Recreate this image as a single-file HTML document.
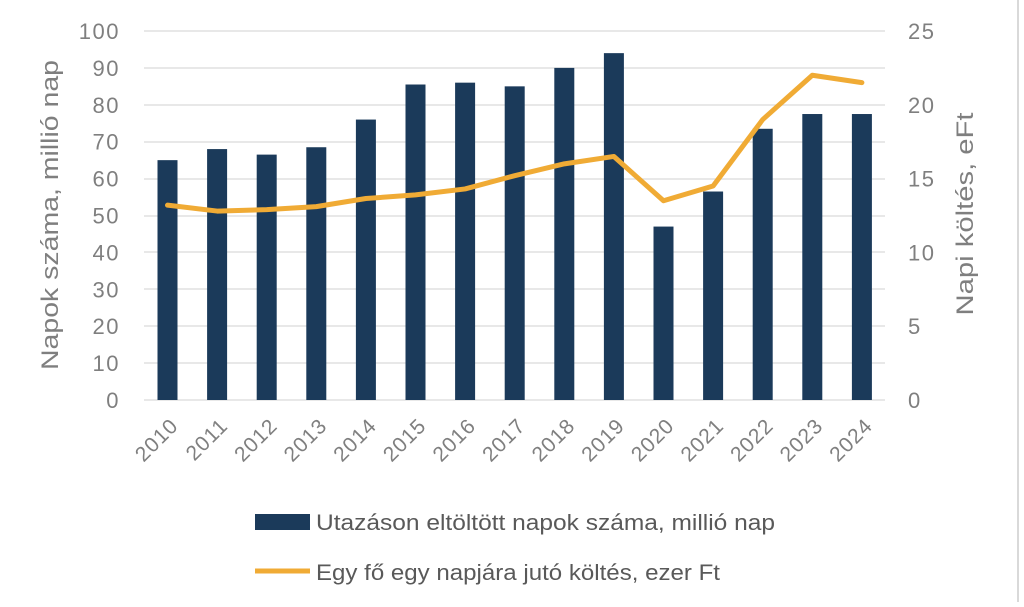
<!DOCTYPE html>
<html><head><meta charset="utf-8"><style>
body{margin:0;background:#fff;width:1024px;height:602px;overflow:hidden}
text{font-family:"Liberation Sans",sans-serif}
</style></head><body>
<svg width="1024" height="602" viewBox="0 0 1024 602">
<rect x="1017" y="0" width="2" height="602" fill="#d9d9d9"/>
<g stroke="#d9d9d9" stroke-width="1.3">
<line x1="144" x2="885" y1="31" y2="31"/><line x1="144" x2="885" y1="68" y2="68"/>
<line x1="144" x2="885" y1="105" y2="105"/><line x1="144" x2="885" y1="142" y2="142"/>
<line x1="144" x2="885" y1="179" y2="179"/><line x1="144" x2="885" y1="216" y2="216"/>
<line x1="144" x2="885" y1="252" y2="252"/><line x1="144" x2="885" y1="289" y2="289"/>
<line x1="144" x2="885" y1="326" y2="326"/><line x1="144" x2="885" y1="363" y2="363"/>
<line x1="144" x2="885" y1="400" y2="400"/>
</g>
<g fill="#1b3a5a" id="bars"></g>
<polyline id="ln" fill="none" stroke="#f0ab35" stroke-width="5" stroke-linejoin="round" stroke-linecap="round"/>
<g fill="#7f7f7f" font-size="22" letter-spacing="1.5" text-anchor="end" id="yl"></g>
<g fill="#7f7f7f" font-size="22" letter-spacing="1.5" text-anchor="start" id="yr"></g>
<g fill="#7f7f7f" font-size="21" letter-spacing="1" text-anchor="end" id="xl"></g>
<text transform="translate(58,215) rotate(-90)" text-anchor="middle" font-size="24" fill="#7f7f7f" textLength="310" lengthAdjust="spacingAndGlyphs">Napok száma, millió nap</text>
<text transform="translate(973,214) rotate(-90)" text-anchor="middle" font-size="24" fill="#7f7f7f" textLength="203" lengthAdjust="spacingAndGlyphs">Napi költés, eFt</text>
<rect x="255" y="514" width="55" height="16" fill="#1b3a5a"/>
<text x="316" y="530" font-size="22" fill="#595959" textLength="459" lengthAdjust="spacingAndGlyphs">Utazáson eltöltött napok száma, millió nap</text>
<line x1="255" x2="310" y1="571" y2="571" stroke="#f0ab35" stroke-width="5"/>
<text x="316" y="580" font-size="22" fill="#595959" textLength="404" lengthAdjust="spacingAndGlyphs">Egy fő egy napjára jutó költés, ezer Ft</text>
</svg>
<script>
var bv=[65,68,66.5,68.5,76,85.5,86,85,90,94,47,56.5,73.5,77.5,77.5];
var lv=[13.2,12.8,12.9,13.1,13.65,13.9,14.3,15.2,16,16.5,13.5,14.5,19,22,21.5];
var ns="http://www.w3.org/2000/svg",b=document.getElementById('bars'),pts=[];
function el(t,a,p,tx){var e=document.createElementNS(ns,t);for(var k in a)e.setAttribute(k,a[k]);if(tx)e.textContent=tx;p.appendChild(e);}
for(var i=0;i<15;i++){var cx=167.5+i*49.6,h=bv[i]*3.69;
el('rect',{x:cx-10,y:400-h,width:20,height:h},b);
pts.push(cx+','+(400-lv[i]*14.76));
el('text',{transform:'translate('+(cx+12)+',427) rotate(-45)'},document.getElementById('xl'),String(2010+i));}
document.getElementById('ln').setAttribute('points',pts.join(' '));
for(var j=0;j<=10;j++)el('text',{x:120,y:400-j*36.9+8},document.getElementById('yl'),String(j*10));
for(var j=0;j<=5;j++)el('text',{x:908,y:400-j*73.8+8},document.getElementById('yr'),String(j*5));
</script>
</body></html>
